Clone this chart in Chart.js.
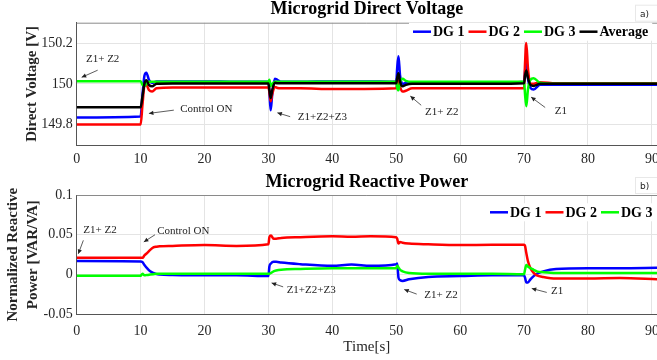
<!DOCTYPE html>
<html>
<head>
<meta charset="utf-8">
<script src="https://cdn.jsdelivr.net/npm/chart.js@4.4.0/dist/chart.umd.min.js"></script>
<style>
  body { margin: 0; background: #fff; }
  #top { position: absolute; left: 0; top: 0; }
  #bot { position: absolute; left: 0; top: 172px; }
</style>
</head>
<body>
<canvas id="top" width="657" height="172"></canvas>
<canvas id="bot" width="657" height="188"></canvas>
<script>
// axis ticks
const xTicks = [0, 10, 20, 30, 40, 50, 60, 70, 80, 90];
const vTicks = [149.8, 150, 150.2];
const qTicks = [-0.05, 0, 0.05, 0.1];

// a) direct voltage [V]
const tV = [0, 10, 10.3, 10.6, 10.9, 11.3, 11.8, 12.5, 15, 20, 25, 30, 30.15, 30.35, 30.6, 31, 31.4, 32, 35, 40, 45,
  50, 50.15, 50.35, 50.6, 51, 51.5, 52.5, 55, 60, 65, 70, 70.15, 70.35, 70.6, 71, 71.5, 72.5, 75, 80, 85, 91];
const vDG1 = [149.835, 149.84, 149.95, 150.04, 150.055, 150.02, 150.005, 150.012, 150.012, 150.012, 150.01, 150.01,
  149.96, 149.87, 149.95, 150.025, 150.02, 150.01, 150.01, 150.012, 150.012,
  150.01, 150.08, 150.135, 150.04, 150.0, 150.005, 150.008, 150.008, 150.006, 150.005, 150.01, 150.06, 150.12, 150.03,
  149.98, 149.972, 149.995, 149.995, 149.995, 149.995, 149.995];
const vDG2 = [149.8, 149.8, 149.9, 149.99, 149.995, 149.97, 149.962, 149.978, 149.982, 149.982, 149.982, 149.982,
  149.96, 149.915, 149.95, 149.985, 149.98, 149.978, 149.978, 149.975, 149.975,
  149.978, 150.0, 150.02, 149.985, 149.962, 149.966, 149.978, 149.978, 149.978, 149.978, 149.978, 150.1, 150.2, 150.08,
  150.0, 150.0, 150.008, 150.003, 150.003, 150.003, 150.003];
const vDG3 = [150.013, 150.013, 149.995, 149.99, 150.0, 150.01, 150.01, 150.01, 150.01, 150.01, 150.01, 150.01,
  150.02, 149.99, 150.0, 150.01, 150.01, 150.01, 150.01, 150.01, 150.01,
  150.01, 149.98, 149.968, 150.01, 150.025, 150.015, 150.01, 150.01, 150.01, 150.01, 150.01, 149.95, 149.89, 149.97,
  150.02, 150.028, 150.005, 150.0, 150.0, 150.0, 150.0];
const vAvg = [149.885, 149.885, 149.94, 150.0, 150.018, 149.995, 149.988, 150.0, 150.002, 150.002, 150.002, 150.002,
  149.97, 149.93, 149.97, 150.005, 150.003, 150.003, 150.003, 150.003, 150.003,
  150.003, 150.03, 150.052, 150.01, 149.988, 149.995, 150.0, 150.0, 150.0, 150.0, 150.003, 150.04, 150.065, 150.03,
  149.995, 149.99, 150.0, 150.0, 150.0, 150.0, 150.0];

// b) normalized reactive power [VAR/VA]
const tQ = [0, 10, 10.3, 10.6, 11, 11.5, 12, 12.5, 13, 15, 20, 25, 30, 30.15, 30.4, 30.8, 31.2, 32, 35, 40, 43, 46,
  50, 50.15, 50.35, 50.6, 51, 52, 55, 60, 65, 70, 70.15, 70.35, 70.6, 71, 71.5, 72, 73, 75, 80, 85, 91];
const qDG1 = [0.017, 0.0165, 0.0155, 0.012, 0.008, 0.004, 0.002, 0.0005, 0.0, -0.0005, -0.001, -0.001, -0.002,
  0.01, 0.014, 0.016, 0.016, 0.015, 0.013, 0.011, 0.0125, 0.011,
  0.013, 0.014, -0.004, -0.007, -0.008, -0.006, -0.003, -0.002, -0.001, -0.001, -0.004, -0.01, -0.01, -0.006,
  -0.002, 0.001, 0.004, 0.007, 0.008, 0.008, 0.0085];
const qDG2 = [0.021, 0.021, 0.021, 0.024, 0.027, 0.031, 0.034, 0.035, 0.0355, 0.036, 0.037, 0.036, 0.038,
  0.047, 0.049, 0.045, 0.045, 0.046, 0.047, 0.048, 0.0475, 0.048,
  0.047, 0.045, 0.039, 0.041, 0.04, 0.039, 0.038, 0.037, 0.0375, 0.0375, 0.036, 0.027, 0.017, 0.008,
  0.002, -0.001, -0.003, -0.005, -0.005, -0.0045, -0.006];
const qDG3 = [-0.0015, -0.0015, 0.001, -0.001, -0.0005, 0.0, 0.0005, 0.001, 0.001, 0.001, 0.001, 0.001, 0.001,
  0.001, 0.002, 0.004, 0.005, 0.006, 0.007, 0.008, 0.008, 0.008,
  0.008, 0.011, 0.009, 0.006, 0.004, 0.002, 0.001, 0.001, 0.001, 0.0005, 0.006, 0.012, 0.01, 0.008,
  0.006, 0.004, 0.003, 0.002, 0.002, 0.002, 0.002];

// event notes: [text, textX, textY, arrowFromX, arrowFromY, arrowTipX, arrowTipY] in data units
const notesV = [
  ['Z1+ Z2', 1.45, 150.122, 3.28, 150.067, 0.78, 150.032],
  ['Control ON', 16.2, 149.875, 15.2, 149.871, 11.3, 149.855],
  ['Z1+Z2+Z3', 34.6, 149.836, 33.4, 149.839, 31.4, 149.858],
  ['Z1+ Z2', 54.5, 149.863, 53.9, 149.895, 52.2, 149.94],
  ['Z1', 74.8, 149.866, 73.3, 149.884, 71.1, 149.935]
];
const notesQ = [
  ['Z1+ Z2', 1.04, 0.0563, 1.04, 0.043, 0.25, 0.026],
  ['Control ON', 12.6, 0.054, 12.25, 0.05, 10.5, 0.041],
  ['Z1+Z2+Z3', 32.85, -0.0196, 32.3, -0.0155, 30.5, -0.0105],
  ['Z1+ Z2', 54.4, -0.026, 53.2, -0.0246, 51.25, -0.0188],
  ['Z1', 74.2, -0.0205, 73.55, -0.0225, 71.2, -0.0175]
];

const SERIF = '"Liberation Serif", "Times New Roman", serif';

function pts(ts, vs) {
  return ts.map((t, i) => ({ x: t, y: vs[i] }));
}

function line(label, color, data, order) {
  return {
    label: label, data: data, borderColor: color, backgroundColor: color,
    borderWidth: 2.5, pointRadius: 0, cubicInterpolationMode: 'monotone', order: order
  };
}

const decor = {
  id: 'decor',
  beforeDatasetsDraw(chart, args, o) {
    const { ctx, chartArea: a } = chart;
    ctx.save();
    ctx.strokeStyle = '#8a8a8a';
    ctx.lineWidth = 1;
    ctx.beginPath();
    ctx.moveTo(a.left, a.top + 0.5);
    ctx.lineTo(a.right, a.top + 0.5);
    ctx.stroke();
    ctx.restore();
  },
  afterDatasetsDraw(chart, args, o) {
    const { ctx, chartArea: a, scales } = chart;
    ctx.save();

    // title
    ctx.fillStyle = '#000';
    ctx.font = 'bold 18px ' + SERIF;
    ctx.textAlign = 'center';
    ctx.textBaseline = 'middle';
    ctx.fillText(o.title, (a.left + a.right) / 2, a.top - 13);

    // panel tag
    ctx.font = '9px "DejaVu Sans", sans-serif';
    ctx.textAlign = 'left';
    ctx.fillStyle = '#222';
    ctx.fillText(o.tag, 640, a.top - 8);
    ctx.strokeStyle = '#e8e8e8';
    ctx.strokeRect(635.5, a.top - 17.5, 30, 16);

    // notes with arrows
    ctx.font = '11px ' + SERIF;
    ctx.fillStyle = '#222';
    ctx.strokeStyle = '#333';
    ctx.lineWidth = 0.8;
    o.notes.forEach(n => {
      const tx = scales.x.getPixelForValue(n[1]), ty = scales.y.getPixelForValue(n[2]);
      const fx = scales.x.getPixelForValue(n[3]), fy = scales.y.getPixelForValue(n[4]);
      const px = scales.x.getPixelForValue(n[5]), py = scales.y.getPixelForValue(n[6]);
      ctx.fillText(n[0], tx, ty);
      const ang = Math.atan2(py - fy, px - fx);
      ctx.beginPath();
      ctx.moveTo(fx, fy);
      ctx.lineTo(px, py);
      ctx.stroke();
      ctx.beginPath();
      ctx.moveTo(px, py);
      ctx.lineTo(px - 5 * Math.cos(ang - 0.45), py - 5 * Math.sin(ang - 0.45));
      ctx.lineTo(px - 5 * Math.cos(ang + 0.45), py - 5 * Math.sin(ang + 0.45));
      ctx.closePath();
      ctx.fill();
    });

    // legend, laid out from its left edge
    ctx.font = 'bold 14px ' + SERIF;
    const items = chart.data.datasets.map(d => ({ label: d.label, color: d.borderColor, w: ctx.measureText(d.label).width }));
    const lineLen = 18, gapA = 2, gapB = 4;
    const total = items.reduce((s, it) => s + lineLen + gapA + it.w, 0) + gapB * (items.length - 1);
    let x = a.left + o.legendDx;
    const y = a.top + o.legendDy;
    ctx.fillStyle = '#fff';
    ctx.fillRect(x - 4, y - 9, total + 8, 18);
    items.forEach(it => {
      ctx.strokeStyle = it.color;
      ctx.lineWidth = 2.5;
      ctx.beginPath();
      ctx.moveTo(x, y);
      ctx.lineTo(x + lineLen, y);
      ctx.stroke();
      ctx.fillStyle = '#000';
      ctx.fillText(it.label, x + lineLen + gapA, y + 1);
      x += lineLen + gapA + it.w + gapB;
    });
    ctx.restore();
  }
};

function xAxis(height, pad, title) {
  return {
    type: 'linear', min: 0, max: 90.8,
    afterBuildTicks: s => { s.ticks = xTicks.map(v => ({ value: v })); },
    afterFit: s => { s.height = height; s.paddingLeft = 0; s.paddingRight = 0; },
    grid: { color: '#e4e4e4', drawTicks: false },
    border: { color: '#555' },
    ticks: { padding: pad, autoSkip: false, maxRotation: 0, color: '#262626', font: { family: SERIF, size: 14 } },
    title: title
  };
}

function yAxis(min, max, ticks, title, titlePad, lh) {
  return {
    min: min, max: max,
    afterBuildTicks: s => { s.ticks = ticks.map(v => ({ value: v })); },
    afterFit: s => { s.width = 76.7; },
    grid: { color: '#e4e4e4', drawTicks: false },
    border: { color: '#555' },
    ticks: { padding: 4, color: '#262626', font: { family: SERIF, size: 14 }, callback: v => String(v) },
    title: { display: true, text: title, color: '#262626', padding: { top: titlePad, bottom: 0 },
      font: { family: SERIF, size: 15, weight: 'bold', lineHeight: lh } }
  };
}

new Chart(document.getElementById('top').getContext('2d'), {
  type: 'line',
  data: {
    datasets: [
      line('DG 1', '#0000ff', pts(tV, vDG1), 3),
      line('DG 2', '#ff0000', pts(tV, vDG2), 2),
      line('DG 3', '#00ff00', pts(tV, vDG3), 1),
      line('Average', '#000000', pts(tV, vAvg), 0)
    ]
  },
  options: {
    responsive: false, animation: false,
    layout: { padding: { top: 22.7, left: 0, right: 0, bottom: 0 } },
    plugins: {
      legend: { display: false }, tooltip: { enabled: false },
      decor: { title: 'Microgrid Direct Voltage', tag: 'a)', notes: notesV, legendDx: 336.3, legendDy: 9 }
    },
    scales: {
      x: xAxis(27, 6, { display: false }),
      y: yAxis(149.7, 150.3, vTicks, 'Direct Voltage [V]', 22.7, 1.2)
    }
  },
  plugins: [decor]
});

new Chart(document.getElementById('bot').getContext('2d'), {
  type: 'line',
  data: {
    datasets: [
      line('DG 1', '#0000ff', pts(tQ, qDG1), 2),
      line('DG 2', '#ff0000', pts(tQ, qDG2), 1),
      line('DG 3', '#00ff00', pts(tQ, qDG3), 0)
    ]
  },
  options: {
    responsive: false, animation: false,
    layout: { padding: { top: 23, left: 0, right: 0, bottom: 0 } },
    plugins: {
      legend: { display: false }, tooltip: { enabled: false },
      decor: { title: 'Microgrid Reactive Power', tag: 'b)', notes: notesQ, legendDx: 413.3, legendDy: 17.3 }
    },
    scales: {
      x: xAxis(45.7, 9, { display: true, text: 'Time[s]', color: '#262626', padding: { top: 0, bottom: 4.3 },
        font: { family: SERIF, size: 15 } }),
      y: yAxis(-0.05, 0.1, qTicks, ['Normalized Reactive', 'Power [VAR/VA]'], 2.6, 1.35)
    }
  },
  plugins: [decor]
});
</script>
</body>
</html>
